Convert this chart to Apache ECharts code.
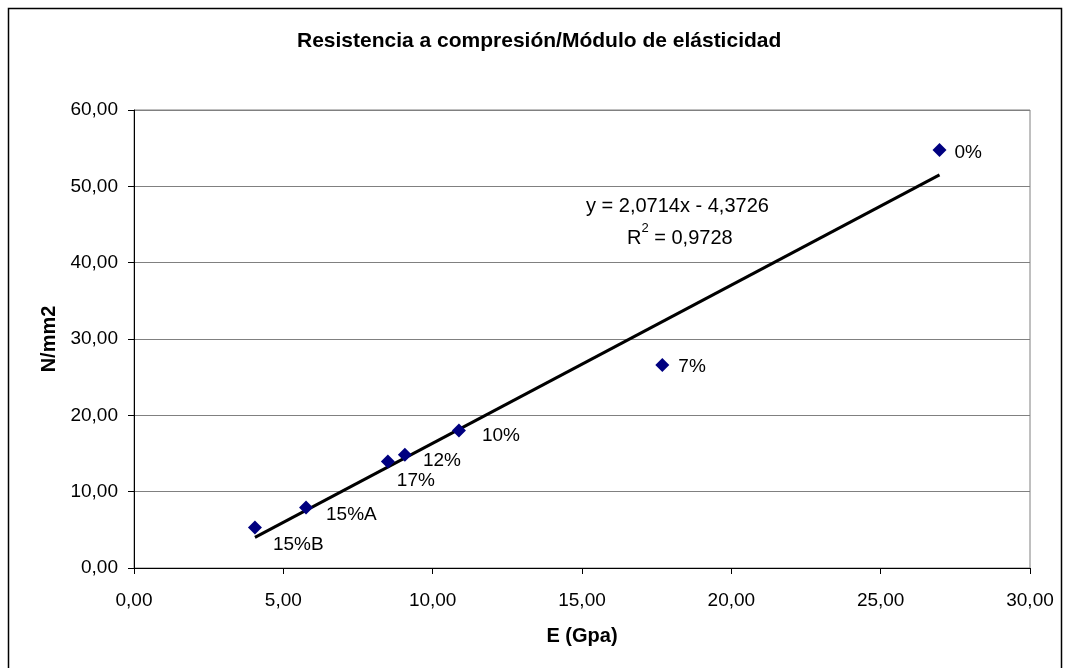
<!DOCTYPE html>
<html>
<head>
<meta charset="utf-8">
<script src="https://cdn.jsdelivr.net/npm/echarts@6/dist/echarts.min.js"></script>
<style>
html,body{margin:0;padding:0;background:#fff;}
#chart{width:1066px;height:668px;}
</style>
</head>
<body>
<div id="chart"></div>
<script>
// ---- data ----
const pointLabels = ['0%', '7%', '10%', '12%', '17%', '15%A', '15%B'];
const eValues     = [26.97, 17.69, 10.88, 9.07, 8.50, 5.76, 4.05];   // E (Gpa)
const strengthValues = [54.75, 26.6, 18.01, 14.83, 13.95, 7.93, 5.31]; // N/mm2
const xTicks = [0, 5, 10, 15, 20, 25, 30];
const yTicks = [0, 10, 20, 30, 40, 50, 60];
// trendline as printed on the chart: y = 2,0714x - 4,3726, R² = 0,9728
const trendSlope = 2.0714;
const trendIntercept = -4.3726;
const trendR2 = 0.9728;

// ---- styling (kept separate from data) ----
const labelOffsets = [[8,3],[9,2],[16,5],[11,6],[2,19],[13,7],[11,17]];
const FONT = 'Liberation Sans';
const fmt = v => v.toFixed(2).replace('.', ',');

const scatterData = eValues.map((x, i) => ({
  value: [x, strengthValues[i]],
  name: pointLabels[i],
  label: { offset: labelOffsets[i] }
}));
const xMin = Math.min(...eValues), xMax = Math.max(...eValues);
const trendData = [[xMin, trendSlope * xMin + trendIntercept], [xMax, trendSlope * xMax + trendIntercept]];

const chart = echarts.init(document.getElementById('chart'));
chart.setOption({
  backgroundColor: '#fff',
  animation: false,
  title: {
    text: 'Resistencia a compresión/Módulo de elásticidad',
    left: 292, top: 26,
    textStyle: { fontFamily: FONT, fontSize: 21, fontWeight: 'bold', color: '#000' }
  },
  grid: { left: 134, right: 36, top: 110, bottom: 100, show: true, borderColor: '#808080', borderWidth: 1 },
  xAxis: {
    type: 'value', min: xTicks[0], max: xTicks[xTicks.length - 1], interval: xTicks[1] - xTicks[0],
    name: 'E (Gpa)', nameLocation: 'middle', nameGap: 58,
    nameTextStyle: { fontFamily: FONT, fontSize: 20, fontWeight: 'bold', color: '#000' },
    axisLine: { show: true, lineStyle: { color: '#000', width: 1 } },
    axisTick: { show: true, length: 6, lineStyle: { color: '#000' } },
    axisLabel: { fontFamily: FONT, fontSize: 19, color: '#000', margin: 23, formatter: fmt },
    splitLine: { show: false }
  },
  yAxis: {
    type: 'value', min: yTicks[0], max: yTicks[yTicks.length - 1], interval: yTicks[1] - yTicks[0],
    name: 'N/mm2', nameLocation: 'middle', nameGap: 75,
    nameTextStyle: { fontFamily: FONT, fontSize: 20, fontWeight: 'bold', color: '#000' },
    axisLine: { show: true, lineStyle: { color: '#000', width: 1 } },
    axisTick: { show: true, length: 6, lineStyle: { color: '#000' } },
    axisLabel: { fontFamily: FONT, fontSize: 19, color: '#000', margin: 16, formatter: fmt },
    splitLine: { show: true, lineStyle: { color: '#808080', width: 1 } }
  },
  series: [
    {
      type: 'line', data: trendData, showSymbol: false, symbol: 'none',
      lineStyle: { color: '#000', width: 3 }, z: 2, silent: true
    },
    {
      type: 'scatter', data: scatterData, symbol: 'diamond', symbolSize: 14,
      itemStyle: { color: '#000080', opacity: 1 }, z: 3,
      label: {
        show: true, position: 'right', distance: 0,
        formatter: p => p.name,
        fontFamily: FONT, fontSize: 19, color: '#000'
      }
    }
  ],
  graphic: [
    { type: 'rect', shape: { x: 8.5, y: 8.5, width: 1053, height: 700 }, style: { fill: 'none', stroke: '#000', lineWidth: 1.5 }, z: 100, silent: true },
    {
      type: 'text', left: 586, top: 196, z: 100,
      style: { text: 'y = ' + trendSlope.toFixed(4).replace('.', ',') + 'x - ' + Math.abs(trendIntercept).toFixed(4).replace('.', ','), fontFamily: FONT, fontSize: 20, fill: '#000' }
    },
    {
      type: 'text', left: 627, top: 222, z: 100,
      style: {
        text: '{n|R}{s|2}{n| = ' + trendR2.toFixed(4).replace('.', ',') + '}',
        rich: {
          n: { fontFamily: FONT, fontSize: 20, fill: '#000', verticalAlign: 'bottom', lineHeight: 26 },
          s: { fontFamily: FONT, fontSize: 13, fill: '#000', verticalAlign: 'top', lineHeight: 26 }
        }
      }
    }
  ]
});
</script>
</body>
</html>
